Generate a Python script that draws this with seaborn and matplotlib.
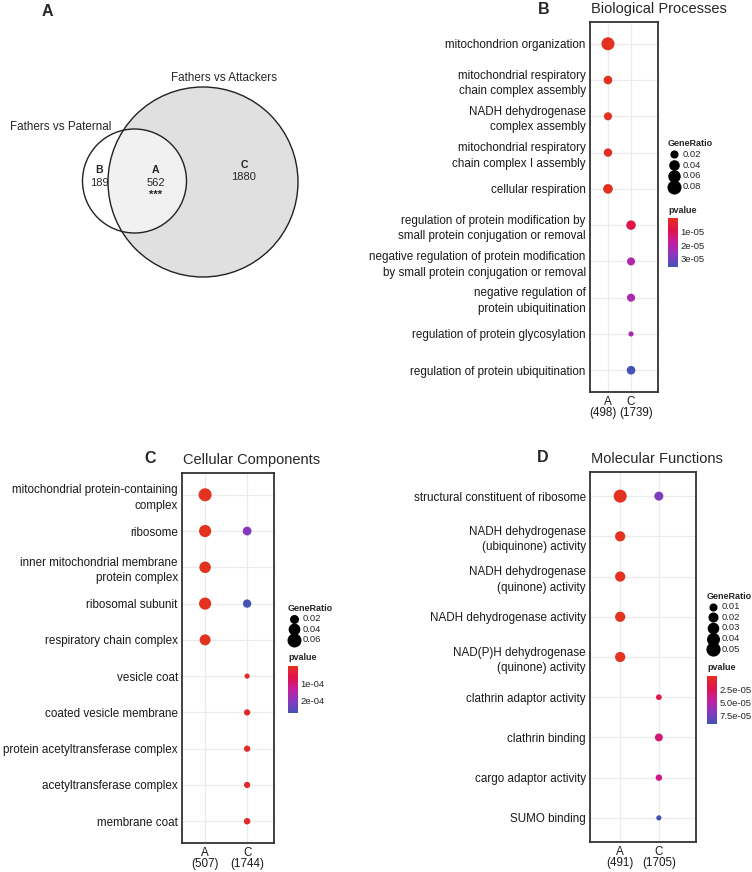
import numpy as np
import pandas as pd
import matplotlib
matplotlib.use("Agg")
import matplotlib.pyplot as plt
import seaborn as sns
from matplotlib.patches import Circle
from matplotlib.lines import Line2D
from matplotlib.colors import LinearSegmentedColormap, Normalize
from matplotlib.cm import ScalarMappable
from matplotlib.transforms import offset_copy

# ---- data ----
# Venn (panel A)
venn_regions = ["B", "A", "C"]
venn_counts = [189, 562, 1880]
set_names = ["Fathers vs Paternal", "Fathers vs Attackers"]

# Biological Processes (panel B)
bp_terms = ["mitochondrion organization",
            "mitochondrial respiratory\nchain complex assembly",
            "NADH dehydrogenase\ncomplex assembly",
            "mitochondrial respiratory\nchain complex I assembly",
            "cellular respiration",
            "regulation of protein modification by\nsmall protein conjugation or removal",
            "negative regulation of protein modification\nby small protein conjugation or removal",
            "negative regulation of\nprotein ubiquitination",
            "regulation of protein glycosylation",
            "regulation of protein ubiquitination"]
bp_group = ["A", "A", "A", "A", "A", "C", "C", "C", "C", "C"]
bp_ratio = [0.085, 0.035, 0.030, 0.033, 0.045, 0.043, 0.030, 0.030, 0.010, 0.035]
bp_pvalue = [2e-8, 3e-7, 5e-7, 6e-7, 4e-7, 8e-6, 2.1e-5, 2.2e-5, 2.3e-5, 3.6e-5]
bp_counts = ["(498)", "(1739)"]
bp_size_breaks = [0.02, 0.04, 0.06, 0.08]
bp_p_breaks = [1e-5, 2e-5, 3e-5]
bp_p_labels = ["1e-05", "2e-05", "3e-05"]

# Cellular Components (panel C)
cc_terms = ["mitochondrial protein-containing\ncomplex", "ribosome",
            "inner mitochondrial membrane\nprotein complex", "ribosomal subunit",
            "respiratory chain complex", "ribosome", "ribosomal subunit",
            "vesicle coat", "coated vesicle membrane",
            "protein acetyltransferase complex", "acetyltransferase complex",
            "membrane coat"]
cc_group = ["A", "A", "A", "A", "A", "C", "C", "C", "C", "C", "C", "C"]
cc_ratio = [0.065, 0.056, 0.050, 0.056, 0.045, 0.028, 0.025, 0.008, 0.013, 0.013, 0.013, 0.014]
cc_pvalue = [1e-9, 2e-8, 5e-8, 3e-8, 2e-7, 2.1e-4, 2.75e-4, 2e-5, 1.5e-5, 1.8e-5, 1.8e-5, 2e-5]
cc_counts = ["(507)", "(1744)"]
cc_size_breaks = [0.02, 0.04, 0.06]
cc_p_breaks = [1e-4, 2e-4]
cc_p_labels = ["1e-04", "2e-04"]

# Molecular Functions (panel D)
mf_terms = ["structural constituent of ribosome",
            "NADH dehydrogenase\n(ubiquinone) activity",
            "NADH dehydrogenase\n(quinone) activity",
            "NADH dehydrogenase activity",
            "NAD(P)H dehydrogenase\n(quinone) activity",
            "structural constituent of ribosome",
            "clathrin adaptor activity", "clathrin binding",
            "cargo adaptor activity", "SUMO binding"]
mf_group = ["A", "A", "A", "A", "A", "C", "C", "C", "C", "C"]
mf_ratio = [0.052, 0.030, 0.030, 0.030, 0.030, 0.022, 0.006, 0.016, 0.009, 0.004]
mf_pvalue = [1e-9, 1e-7, 1e-7, 1e-7, 1e-7, 7.2e-5, 1.8e-5, 3.4e-5, 3.7e-5, 9e-5]
mf_counts = ["(491)", "(1705)"]
mf_size_breaks = [0.01, 0.02, 0.03, 0.04, 0.05]
mf_p_breaks = [2.5e-5, 5e-5, 7.5e-5]
mf_p_labels = ["2.5e-05", "5.0e-05", "7.5e-05"]

# ---- style ----
sns.set_style("white")
plt.rcParams["font.family"] = ["Liberation Sans", "DejaVu Sans"]

W, H = 752, 872
fig = plt.figure(figsize=(W / 100, H / 100), dpi=100)

def fx(x):
    return x / W

def fy(y):
    return 1 - y / H

pcmap = LinearSegmentedColormap.from_list(
    "pval", ["#e3321f", "#e0124e", "#c41f9e", "#8a36c0", "#4452b4"])
SMIN, SMAX = 14, 88


def size_of(v, vmin, vmax):
    return SMIN + (v - vmin) / (vmax - vmin) * (SMAX - SMIN)


def dotplot(rect, terms, group, ratio, pvalue, counts, xlim, title, count_dx=(0, 0)):
    left, top, right, bottom = rect
    ax = fig.add_axes([fx(left), fy(bottom), (right - left) / W, (bottom - top) / H])
    df = pd.DataFrame({"term": terms, "group": group, "ratio": ratio, "pvalue": pvalue})
    sns.scatterplot(data=df, x="group", y="term", hue="pvalue", size="ratio",
                    palette=pcmap, hue_norm=(min(pvalue), max(pvalue)),
                    sizes=(SMIN, SMAX), size_norm=(min(ratio), max(ratio)),
                    linewidth=0, legend=False, ax=ax, zorder=3)
    n = len(dict.fromkeys(terms))
    letters = list(dict.fromkeys(group))
    ax.set_ylim(n - 0.4, -0.6)
    ax.set_xlim(*xlim)
    ax.set_xticks(range(len(letters)))
    ax.set_xticklabels(letters, fontsize=8.4)
    for i, c in enumerate(counts):
        tr = offset_copy(ax.get_xaxis_transform(), fig=fig, x=count_dx[i], y=-21, units="dots")
        ax.text(i, 0, c, transform=tr, fontsize=8.4, color="#1a1a1a",
                ha="center", va="center")
    for t in ax.get_yticklabels():
        t.set_linespacing(1.4)
    ax.set_xlabel("")
    ax.set_ylabel("")
    ax.grid(True, color="#ebebeb", linewidth=0.9, zorder=0)
    ax.set_axisbelow(True)
    for sp in ax.spines.values():
        sp.set_color("#333333")
        sp.set_linewidth(1.3)
    ax.tick_params(axis="y", labelsize=8.4)
    ax.tick_params(axis="both", length=2, width=0.6, color="#333333",
                   labelcolor="#1a1a1a", pad=1)
    fig.text(fx(left + 1), fy(top - 13), title, fontsize=10.5, ha="left", va="center")
    return ax


def size_legend(x, y, breaks, ratio, step):
    fig.text(fx(x), fy(y), "GeneRatio", fontsize=6.5, weight="bold", ha="left", va="center")
    for i, b in enumerate(breaks):
        yy = y + 10.5 + i * step
        s = size_of(b, min(ratio), max(ratio))
        fig.add_artist(Line2D([fx(x + 6)], [fy(yy)], marker="o", markersize=np.sqrt(s),
                              color="black", linestyle="none", transform=fig.transFigure))
        fig.text(fx(x + 15), fy(yy), f"{b:.2f}", fontsize=6.8, ha="left", va="center")


def color_legend(x, y, pvalue, breaks, labels, bar_h):
    fig.text(fx(x), fy(y), "pvalue", fontsize=6.5, weight="bold", ha="left", va="center")
    cax = fig.add_axes([fx(x), fy(y + 8 + bar_h), 10 / W, bar_h / H])
    sm = ScalarMappable(norm=Normalize(min(pvalue), max(pvalue)), cmap=pcmap)
    cb = fig.colorbar(sm, cax=cax)
    cb.outline.set_visible(False)
    cax.invert_yaxis()
    cb.set_ticks(breaks)
    cb.set_ticklabels(labels)
    cax.tick_params(length=2, width=0.8, color="white", direction="in",
                    labelsize=6.8, pad=2)


# ---- panel A: venn ----
axv = fig.add_axes([0, fy(420), 376 / W, 420 / H])
axv.set_xlim(0, 376)
axv.set_ylim(420, 0)
axv.axis("off")
big = Circle((203, 182), 95, facecolor="#e0e0e0", edgecolor="none")
small = Circle((134.5, 181), 52, facecolor="white", edgecolor="none")
axv.add_patch(small)
axv.add_patch(big)
inter = Circle((134.5, 181), 52, facecolor="#f1f1f1", edgecolor="none")
axv.add_patch(inter)
inter.set_clip_path(big)
axv.add_patch(Circle((203, 182), 95, facecolor="none", edgecolor="#222222", linewidth=1.0))
axv.add_patch(Circle((134.5, 181), 52, facecolor="none", edgecolor="#222222", linewidth=1.0))
axv.text(224, 78, set_names[1], fontsize=8.4, ha="center", va="center")
axv.text(61, 127, set_names[0], fontsize=8.4, ha="center", va="center")
venn_xy = [(99, 170), (156, 170), (244, 165)]
for lab, cnt, (x, y) in zip(venn_regions, venn_counts, venn_xy):
    axv.text(x, y, lab, fontsize=7.6, weight="bold", ha="center", va="center")
    axv.text(x, y + 12.5, str(cnt), fontsize=8, ha="center", va="center")
axv.text(156, 195, "***", fontsize=8, weight="bold", ha="center", va="center")

# ---- dot plots ----
dotplot((590, 22, 658, 392), bp_terms, bp_group, bp_ratio, bp_pvalue, bp_counts,
        (-0.78, 2.17), "Biological Processes", count_dx=(-5, 5))
size_legend(668, 144, bp_size_breaks, bp_ratio, 10.7)
color_legend(668, 210, bp_pvalue, bp_p_breaks, bp_p_labels, 49)

dotplot((182, 473, 274, 843), cc_terms, cc_group, cc_ratio, cc_pvalue, cc_counts,
        (-0.55, 1.64), "Cellular Components")
size_legend(288, 608, cc_size_breaks, cc_ratio, 10.7)
color_legend(288, 658, cc_pvalue, cc_p_breaks, cc_p_labels, 47)

dotplot((590, 472, 696, 842), mf_terms, mf_group, mf_ratio, mf_pvalue, mf_counts,
        (-0.78, 1.96), "Molecular Functions")
size_legend(707, 596, mf_size_breaks, mf_ratio, 10.7)
color_legend(707, 668, mf_pvalue, mf_p_breaks, mf_p_labels, 48)

# panel letters
for lab, x, y in [("A", 47, 12), ("B", 544, 9), ("C", 150, 458), ("D", 543, 457)]:
    fig.text(fx(x), fy(y), lab, fontsize=11.5, weight="bold", ha="center", va="center")

fig.savefig("out.png", dpi=100)
